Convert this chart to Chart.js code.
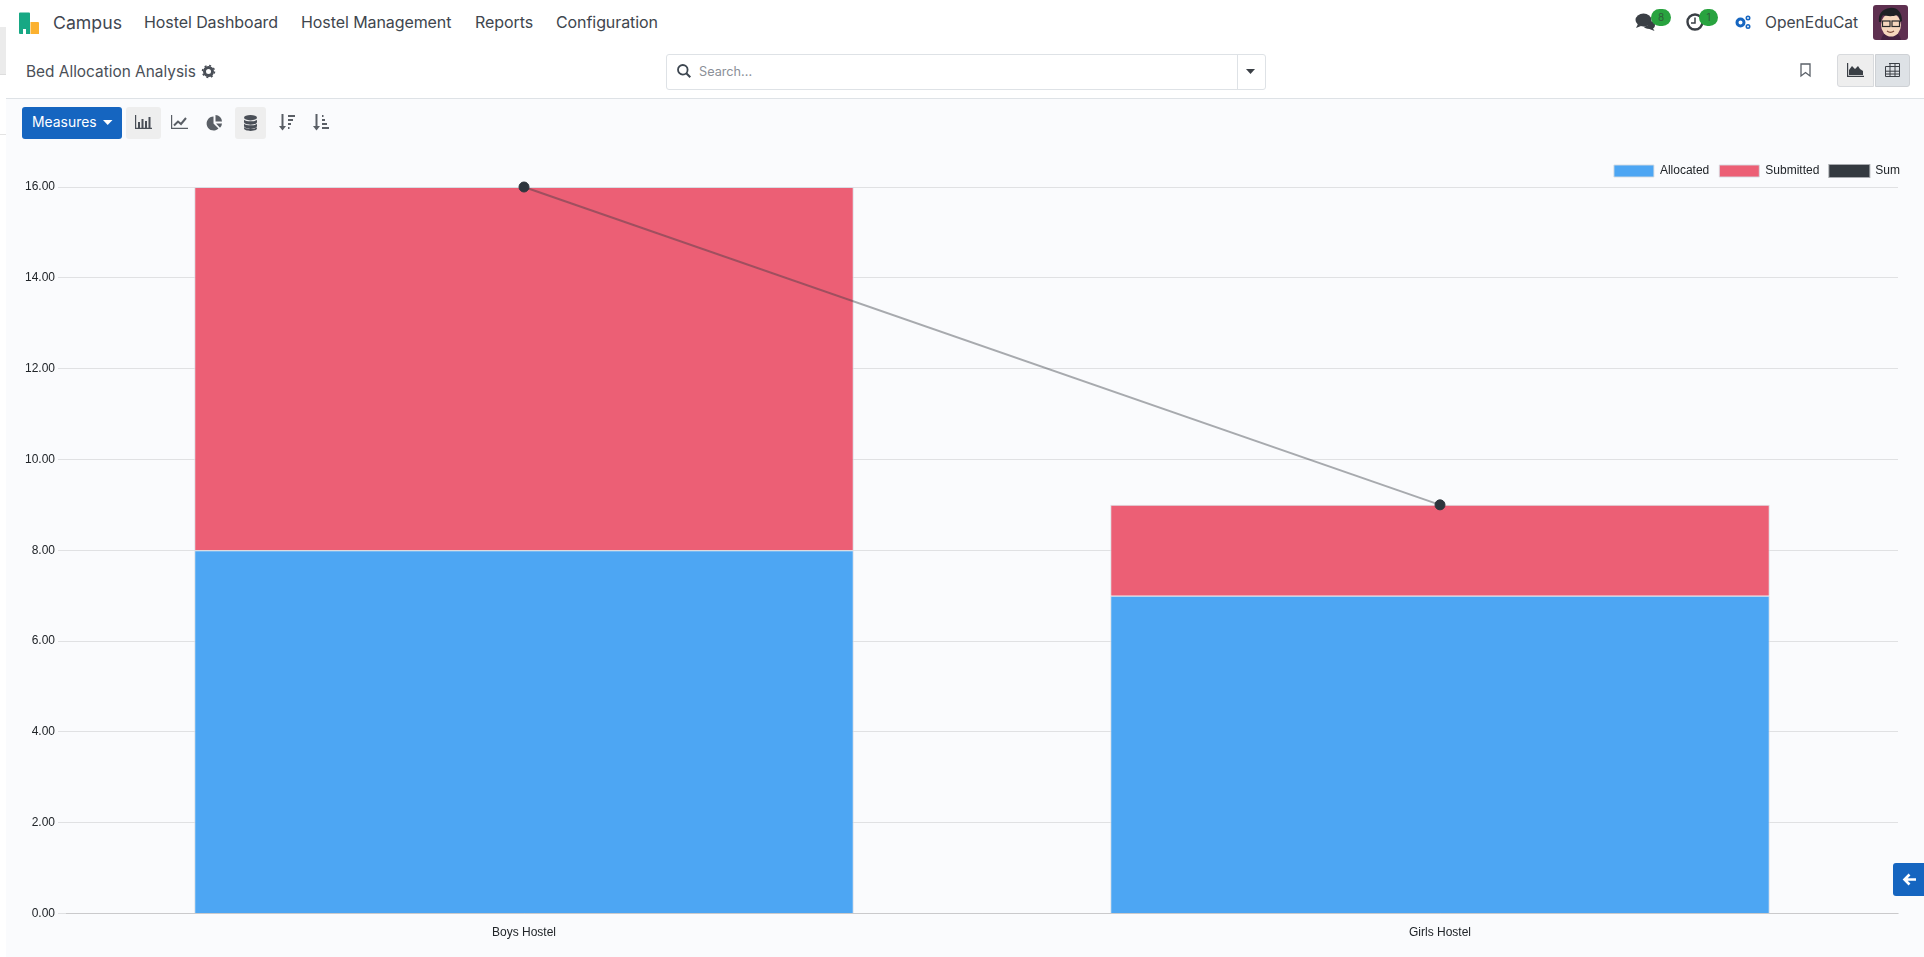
<!DOCTYPE html>
<html>
<head>
<meta charset="utf-8">
<title>Bed Allocation Analysis</title>
<script src="https://cdn.jsdelivr.net/npm/chart.js@4/dist/chart.umd.min.js"></script>
<style>
html,body{margin:0;padding:0;width:1924px;height:957px;overflow:hidden;background:#fff;font-family:Inter,Roboto,sans-serif;color:#4a4f57}
.a{position:absolute;white-space:nowrap}
.nav{top:12px;font-size:16px;line-height:21px;color:#40464e;letter-spacing:-.08px}
svg{position:absolute;overflow:visible}
#content{left:6px;top:98px;width:1918px;height:859px;background:#fafbfd;border-top:1px solid #dee2e6;box-sizing:border-box}
#wrap{left:6px;top:155px;width:1904px;height:790px}
</style>
</head>
<body>
<div class="a" style="left:0;top:27px;width:6px;height:47px;background:#ebebeb;border-bottom:1px solid #ddd"></div>
<div class="a" style="left:0;top:134px;width:6px;height:1px;background:#e4e4e4"></div>

<!-- top bar -->
<svg style="left:17.500px;top:12px" width="22" height="23" viewBox="0 0 22 23">
<path d="M1 1.500a1 1 0 0 1 1-1h9a1 1 0 0 1 1 1V22H8v-5H5v5H2a1 1 0 0 1-1-1z" fill="#17a884"/>
<path d="M12.500 10H20a1 1 0 0 1 1 1v11h-8.500z" fill="#fbb130"/></svg>
<div class="a" style="left:53px;top:11px;font-size:17.700px;line-height:24px;color:#3f4650">Campus</div>
<div class="a nav" style="left:144px">Hostel Dashboard</div>
<div class="a nav" style="left:301px">Hostel Management</div>
<div class="a nav" style="left:475px">Reports</div>
<div class="a nav" style="left:556px">Configuration</div>

<!-- right of top bar -->
<svg style="left:1635px;top:13px" width="22" height="18" viewBox="0 0 22 18">
<ellipse cx="8.500" cy="7" rx="8" ry="6.500" fill="#3a3f45"/>
<path d="M3 11l-2 4 5-2zM14 8c4 0 6 2 6 4s-1 3-2 3.500l1.500 2.500-5-2c-3 0-5-1-6-2.500 4 0 6-2.500 5.500-5.500z" fill="#3a3f45"/></svg>
<div class="a" style="left:1651px;top:9px;width:20px;height:17px;border-radius:9px;background:#28a33f;color:#2f5b3a;font-size:10px;line-height:17px;text-align:center">8</div>
<svg style="left:1686px;top:13px" width="18" height="18" viewBox="0 0 18 18"><circle cx="9" cy="9" r="7.500" fill="none" stroke="#3a3f45" stroke-width="2.400"/><path d="M9 4.500V10H5" fill="none" stroke="#3a3f45" stroke-width="1.500"/></svg>
<div class="a" style="left:1699px;top:9px;width:19px;height:17px;border-radius:9px;background:#28a33f;color:#2f5b3a;font-size:10px;line-height:17px;text-align:center">1</div>
<svg style="left:1735px;top:15px" width="16" height="14" viewBox="0 0 16 14"><circle cx="5.500" cy="7.500" r="3.500" fill="none" stroke="#1565c0" stroke-width="3"/><circle cx="13" cy="3" r="1.700" fill="none" stroke="#1565c0" stroke-width="1.600"/><circle cx="13" cy="11.500" r="1.700" fill="none" stroke="#1565c0" stroke-width="1.600"/></svg>
<div class="a" style="left:1765px;top:12px;font-size:15.600px;line-height:21px;color:#40464e">OpenEduCat</div>
<svg style="left:1873px;top:5px" width="35" height="35" viewBox="0 0 35 35">
<rect width="35" height="35" rx="3" fill="#5e3050"/>
<path d="M8 35c1-6 5-8 10-8s9 2 10 8z" fill="#452240"/>
<ellipse cx="18" cy="20" rx="10" ry="11.500" fill="#f6d7bd"/>
<path d="M6 17c-1-8 3-13 11-14 6-1 12 3 12 13l-2 1c0-3-1-6-3-7-5 2-11 1-14 0-2 2-2 5-2 7z" fill="#1e2024"/>
<rect x="9.500" y="16" width="7.500" height="5.500" fill="none" stroke="#2a2a2a" stroke-width="1.200"/><rect x="19" y="16" width="7.500" height="5.500" fill="none" stroke="#2a2a2a" stroke-width="1.200"/>
<path d="M14 26c2 1.500 5 1.500 7 0" fill="none" stroke="#7a4a3a" stroke-width="1.200"/></svg>

<!-- control panel -->
<div class="a" style="left:26px;top:61px;font-size:15.400px;line-height:22px;color:#4a4f57">Bed Allocation Analysis</div>
<svg style="left:202px;top:65px" width="13" height="13" viewBox="0 0 13 13"><circle cx="6.500" cy="6.500" r="4" fill="none" stroke="#4a4f57" stroke-width="3"/><circle cx="6.500" cy="6.500" r="6" fill="none" stroke="#4a4f57" stroke-width="1.500" stroke-dasharray="2 2.700"/></svg>

<div class="a" style="left:666px;top:54px;width:600px;height:36px;box-sizing:border-box;background:#fff;border:1px solid #dee2e6;border-radius:3px"></div>
<div class="a" style="left:1237px;top:54px;width:1px;height:36px;background:#dee2e6"></div>
<svg style="left:677px;top:64px" width="14" height="14" viewBox="0 0 14 14"><circle cx="5.800" cy="5.800" r="4.800" fill="none" stroke="#3d4650" stroke-width="1.800"/><path d="M9.300 9.300L13.300 13.300" stroke="#3d4650" stroke-width="2"/></svg>
<div class="a" style="left:699px;top:62px;font-size:12.700px;line-height:20px;color:#8b9098">Search...</div>
<svg style="left:1246px;top:69px" width="10" height="6" viewBox="0 0 10 6"><path d="M0 0h9L4.500 5z" fill="#3a3f45"/></svg>

<svg style="left:1800px;top:63px" width="11" height="14" viewBox="0 0 11 14"><path d="M1 1h9v12L5.500 9.500 1 13z" fill="none" stroke="#5a6068" stroke-width="1.300"/></svg>
<div class="a" style="left:1837px;top:54px;width:37px;height:33px;box-sizing:border-box;background:#eee;border:1px solid #d8dadd;border-radius:3px 0 0 3px"></div>
<div class="a" style="left:1875px;top:54px;width:35px;height:33px;box-sizing:border-box;background:#dee2e6;border:1px solid #ced1d5;border-radius:0 3px 3px 0"></div>
<svg style="left:1847px;top:63px" width="17" height="14" viewBox="0 0 17 14"><path d="M.6 0v13.400H17" fill="none" stroke="#3a3f45" stroke-width="1.200"/><path d="M2 12V7l3-4 3 3 3-3 2 3 3 2v4z" fill="#3a3f45"/></svg>
<svg style="left:1885px;top:63px" width="15" height="14" viewBox="0 0 15 14"><path d="M4 .5h10.500v13H.5v-10H14.500M.5 8.200h14M.5 11h14M5 .5v13M10 .5v13" fill="none" stroke="#3a3f45" stroke-width="1"/></svg>

<!-- content -->
<div class="a" id="content"></div>
<div class="a" style="left:22px;top:107px;width:100px;height:32px;background:#1565c0;border-radius:3px"></div>
<div class="a" style="left:32px;top:111px;font-size:13.900px;line-height:22px;color:#fff">Measures</div>
<svg style="left:103px;top:120px" width="10" height="6" viewBox="0 0 10 6"><path d="M0 0h9.500L4.700 5z" fill="#fff"/></svg>
<div class="a" style="left:126px;top:107px;width:35px;height:32px;background:#eee;border-radius:3px"></div>
<div class="a" style="left:235px;top:107px;width:31px;height:32px;background:#eee;border-radius:3px"></div>
<svg style="left:135px;top:115px" width="17" height="15" viewBox="0 0 17 15"><path d="M.6 0v13.400H17" fill="none" stroke="#4a4f57" stroke-width="1.200"/><path d="M3 7h2v6H3zM6.500 4h2v9h-2zM10 6h2v7h-2zM13.500 2h2v11h-2z" fill="#4a4f57"/></svg>
<svg style="left:171px;top:115px" width="17" height="15" viewBox="0 0 17 15"><path d="M.6 0v13.400H17" fill="none" stroke="#5a5f66" stroke-width="1.200"/><path d="M3 10.500L7 6.500l3 2.500 5-6" fill="none" stroke="#5a5f66" stroke-width="2"/></svg>
<svg style="left:207px;top:115px" width="15" height="15" viewBox="0 0 15 15"><path d="M6.500 1.500V8.500l5 5A7 7 0 1 1 6.500 1.500z" fill="#5a5f66"/><path d="M8.500 0A6.500 6.500 0 0 1 15 6.500H8.500zM9 8.500h6a6.500 6.500 0 0 1-2 4.300z" fill="#5a5f66"/></svg>
<svg style="left:244px;top:115px" width="13" height="16" viewBox="0 0 13 16"><ellipse cx="6.500" cy="2.700" rx="6.500" ry="2.700" fill="#4a4f57"/><path d="M0 4.800c2 2 11 2 13 0v2.200c0 3.500-13 3.500-13 0zM0 8.800c2 2 11 2 13 0V11c0 3.500-13 3.500-13 0zM0 12.300c2 2 11 2 13 0v1c0 3.500-13 3.500-13 0z" fill="#4a4f57"/></svg>
<svg style="left:279px;top:114px" width="16" height="17" viewBox="0 0 16 17"><path d="M3.500 0v13" stroke="#5a5f66" stroke-width="2"/><path d="M0 12h7l-3.500 4.500z" fill="#5a5f66"/><path d="M9 1h7v2H9zM9 5h5v2H9zM9 9h3v2H9zM9 13h1.500v2H9z" fill="#5a5f66"/></svg>
<svg style="left:313px;top:114px" width="16" height="17" viewBox="0 0 16 17"><path d="M3.500 0v13" stroke="#5a5f66" stroke-width="2"/><path d="M0 12h7l-3.500 4.500z" fill="#5a5f66"/><path d="M9 1h1.500v2H9zM9 5h3v2H9zM9 9h5v2H9zM9 13h7v2H9z" fill="#5a5f66"/></svg>

<div class="a" id="wrap"><canvas id="chart"></canvas></div>

<div class="a" style="left:1893px;top:863px;width:31px;height:33px;background:#1565c0;border-radius:3px 0 0 3px"></div>
<svg style="left:1903px;top:873px" width="13" height="13" viewBox="0 0 13 13"><path d="M6.500 1.500L1.500 6.500l5 5M2 6.500h11" fill="none" stroke="#fff" stroke-width="2.600"/></svg>

<script>
const categories = ["Boys Hostel", "Girls Hostel"];
const allocated = [8, 7];
const submitted = [8, 2];
const sum = [16, 9];
const yMax = 16;
const yStep = 2;

const barEdge = "rgba(214,220,226,0.9)";
Chart.defaults.font.family = '"Liberation Sans", Arial, sans-serif';
Chart.defaults.font.size = 12;
Chart.defaults.color = "#212529";

new Chart(document.getElementById("chart"), {
  type: "bar",
  data: {
    labels: categories,
    datasets: [
      { label: "Allocated", data: allocated, stack: "beds", backgroundColor: "#4da6f3", borderColor: barEdge, borderWidth: 1, order: 2 },
      { label: "Submitted", data: submitted, stack: "beds", backgroundColor: "#ec5f75", borderColor: barEdge, borderWidth: 1, order: 2 },
      { label: "Sum", type: "line", data: sum, stack: "total", backgroundColor: "#343a40", borderColor: "rgba(52,58,64,0.42)", borderWidth: 2,
        pointBackgroundColor: "#2d353d", pointBorderColor: "#2d353d", pointRadius: 5, pointBorderWidth: 1, tension: 0, fill: false, clip: false, order: 1 }
    ]
  },
  options: {
    responsive: true,
    maintainAspectRatio: false,
    animation: false,
    layout: { padding: 0 },
    plugins: {
      tooltip: { enabled: false },
      legend: {
        position: "top", align: "end",
        labels: { boxWidth: 40, boxHeight: 12, padding: 10, color: "#212529", font: { size: 12 },
          sort: (a, b) => a.datasetIndex - b.datasetIndex }
      }
    },
    scales: {
      x: {
        stacked: true,
        grid: { display: false },
        border: { color: "rgba(0,0,0,0.1)" },
        ticks: { color: "#212529", padding: 4 },
        afterFit(scale) { scale.height = 31.5; }
      },
      y: {
        stacked: true,
        min: 0, max: yMax,
        ticks: { stepSize: yStep, color: "#212529", callback: v => v.toFixed(2) },
        grid: { color: "rgba(0,0,0,0.1)", tickLength: 8 },
        border: { display: false },
        afterFit(scale) { scale.width = 60; }
      },
      gutter: {
        position: "right",
        ticks: { display: false },
        grid: { display: false },
        border: { display: false },
        afterFit(scale) { scale.width = 12; }
      }
    }
  }
});
</script>
</body>
</html>
